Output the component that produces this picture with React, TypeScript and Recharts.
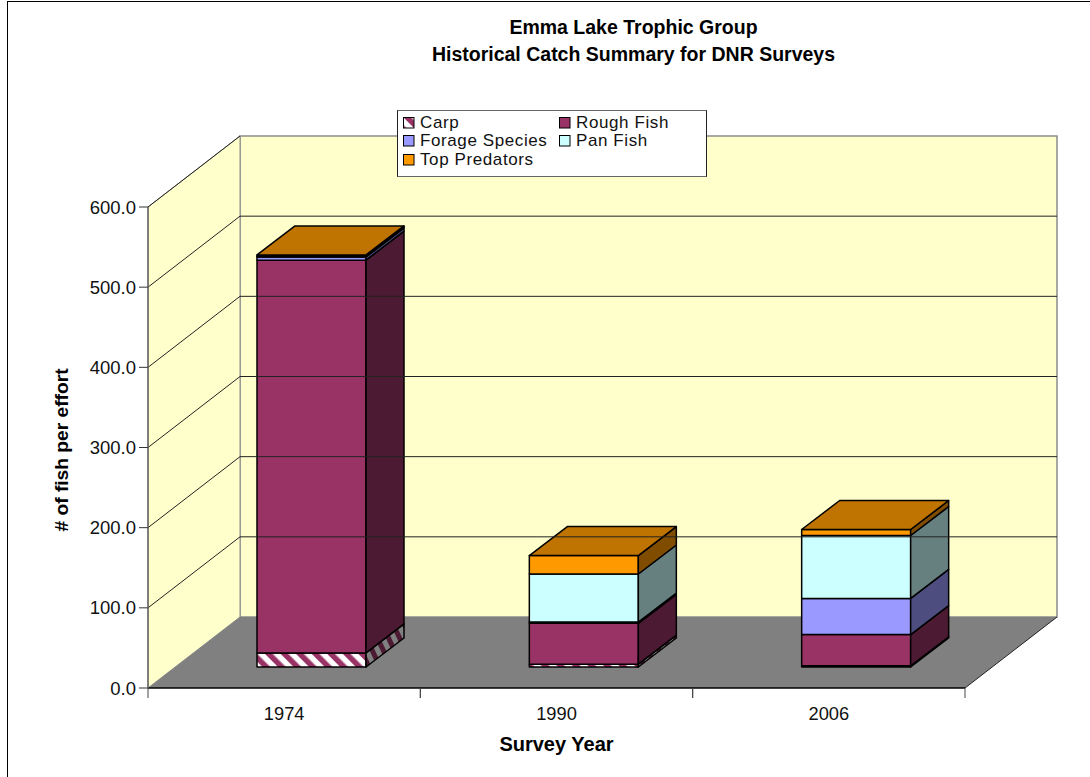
import { Bar, BarChart, Legend, ReferenceArea, ReferenceLine, XAxis, YAxis } from 'recharts';

const years = ['1974', '1990', '2006'];
const carp = [17.5, 3.5, 1.5];
const roughFish = [490, 51, 39];
const forageSpecies = [4, 1.5, 45];
const panFish = [1, 60, 78.5];
const topPredators = [1.5, 23, 7.5];

const seriesKeys = ['carp', 'rough', 'forage', 'pan', 'top'];
const seriesNames = ['Carp', 'Rough Fish', 'Forage Species', 'Pan Fish', 'Top Predators'];
const frontFills = ['url(#carpFront)', '#993366', '#9999FF', '#CCFFFF', '#FF9900'];
const sideFills = ['url(#carpSide)', '#4D1A33', '#4D4D80', '#668080', '#804D00'];
const yTicks = [0, 100, 200, 300, 400, 500, 600];

const rows = years.map((year, i) => ({
  year,
  carp: carp[i],
  rough: roughFish[i],
  forage: forageSpecies[i],
  pan: panFish[i],
  top: topPredators[i],
}));

const FONT = '"Liberation Sans", Arial, sans-serif';
// wall depth and where the bars sit inside it
const WALL_DX = 92;
const WALL_DY = 71;
const BAR_SHIFT_X = 27;
const BAR_SHIFT_Y = 21;
const BAR_DX = 38;
const BAR_DY = 29;
const BAND = 817 / 3;

function pts(list: number[][]) {
  return list.map((p) => p.join(',')).join(' ');
}

function Walls({ x, y, width, height }: any) {
  const bottom = y + height;
  const right = x + width;
  return (
    <g>
      <polygon
        points={pts([[x + WALL_DX, y - WALL_DY], [right + WALL_DX, y - WALL_DY], [right + WALL_DX, bottom - WALL_DY], [x + WALL_DX, bottom - WALL_DY]])}
        fill="#FFFFCC"
        stroke="#8C8C8C"
        strokeWidth={1.5}
      />
      <polygon
        points={pts([[x, y], [x + WALL_DX, y - WALL_DY], [x + WALL_DX, bottom - WALL_DY], [x, bottom]])}
        fill="#FFFFCC"
        stroke="#8C8C8C"
        strokeWidth={1}
      />
      <polygon
        points={pts([[x, bottom], [x + WALL_DX, bottom - WALL_DY], [right + WALL_DX, bottom - WALL_DY], [right, bottom]])}
        fill="#808080"
      />
      <line x1={right} y1={bottom} x2={right + WALL_DX} y2={bottom - WALL_DY} stroke="#222" />
      <line x1={x} y1={y} x2={x + WALL_DX} y2={y - WALL_DY} stroke="#222" />
    </g>
  );
}

function WallGridLine({ x1, y1, x2 }: any) {
  return (
    <g>
      <line x1={x1} y1={y1} x2={x1 + WALL_DX} y2={y1 - WALL_DY} stroke="#222" />
      <line x1={x1 + WALL_DX} y1={y1 - WALL_DY} x2={x2 + WALL_DX} y2={y1 - WALL_DY} stroke="#222" />
    </g>
  );
}

function boxShape(index: number) {
  return function Box({ x, y, width, height }: any) {
    const left = x + BAR_SHIFT_X;
    const right = left + width;
    const top = y - BAR_SHIFT_Y;
    const bottom = top + height;
    return (
      <g stroke="#000" strokeWidth={1.5} strokeLinejoin="round">
        <rect x={left} y={top} width={width} height={height} fill={frontFills[index]} />
        <polygon
          points={pts([[right, top], [right + BAR_DX, top - BAR_DY], [right + BAR_DX, bottom - BAR_DY], [right, bottom]])}
          fill={sideFills[index]}
        />
        {index === seriesKeys.length - 1 && (
          <polygon
            points={pts([[left, top], [left + BAR_DX, top - BAR_DY], [right + BAR_DX, top - BAR_DY], [right, top]])}
            fill="#BF7300"
          />
        )}
      </g>
    );
  };
}

function YearTick({ x, y, payload }: any) {
  return (
    <g>
      <line x1={x - BAND / 2} y1={y} x2={x - BAND / 2} y2={y + 10} stroke="#444" />
      <line x1={x + BAND / 2} y1={y} x2={x + BAND / 2} y2={y + 10} stroke="#444" />
      <text x={x} y={y + 32} textAnchor="middle" fontSize={18.3} fontFamily={FONT} fill="#111">
        {payload.value}
      </text>
    </g>
  );
}

function YTitle({ viewBox }: any) {
  const cy = viewBox.y + viewBox.height / 2 + 2.5;
  return (
    <text x={68} y={cy} transform={`rotate(-90 68 ${cy})`} textAnchor="middle" fontSize={19.2} fontWeight="bold" fontFamily={FONT} fill="#000">
      # of fish per effort
    </text>
  );
}

function LegendBox() {
  return (
    <div
      style={{
        boxSizing: 'border-box',
        width: 310,
        height: 67,
        background: '#fff',
        border: '1px solid #222',
        borderTopColor: '#666',
        borderBottomColor: '#666',
        display: 'grid',
        gridTemplateColumns: '156px 150px',
        gridAutoRows: '18.3px',
        paddingTop: 3,
        paddingLeft: 5,
        fontFamily: FONT,
        fontSize: 17,
        letterSpacing: 0.6,
        lineHeight: '18px',
        color: '#111',
      }}
    >
      {seriesNames.map((name, i) => (
        <div key={name} style={{ display: 'flex', alignItems: 'center' }}>
          <svg width={12} height={12} style={{ marginRight: 5 }}>
            <rect x={0.5} y={0.5} width={10.5} height={10.5} fill={frontFills[i]} stroke="#000" />
          </svg>
          {name}
        </div>
      ))}
    </div>
  );
}

export default function App() {
  return (
    <div style={{ position: 'absolute', left: 0, top: 0, width: 1090, height: 777, overflow: 'hidden', background: '#fff' }}>
      <div style={{ position: 'absolute', left: 7, top: 1, width: 1200, height: 900, borderLeft: '1px solid #000', borderTop: '1px solid #000' }} />
      <BarChart
        width={1090}
        height={777}
        data={rows}
        barSize={109}
        margin={{ top: 207, right: 125, bottom: 0, left: 0 }}
        style={{ position: 'absolute', left: 0, top: 0 }}
      >
        <defs>
          <pattern id="carpFront" patternUnits="userSpaceOnUse" width={11} height={11} patternTransform="rotate(-45)">
            <rect width={11} height={11} fill="#fff" />
            <rect width={5.5} height={11} fill="#993366" />
          </pattern>
          <pattern id="carpSide" patternUnits="userSpaceOnUse" width={10} height={10} patternTransform="rotate(-25)">
            <rect width={10} height={10} fill="#808080" />
            <rect width={5} height={10} fill="#4D1A33" />
          </pattern>
        </defs>
        <text x={633.5} y={34} textAnchor="middle" fontSize={19.5} fontWeight="bold" fontFamily={FONT} fill="#000">
          Emma Lake Trophic Group
        </text>
        <text x={633.5} y={60.5} textAnchor="middle" fontSize={19.5} fontWeight="bold" fontFamily={FONT} fill="#000">
          Historical Catch Summary for DNR Surveys
        </text>
        <ReferenceArea y1={0} y2={600} shape={Walls} ifOverflow="visible" />
        {yTicks.slice(1, -1).map((t) => (
          <ReferenceLine key={t} y={t} shape={WallGridLine} ifOverflow="visible" />
        ))}
        <XAxis
          dataKey="year"
          height={89}
          axisLine={{ stroke: '#000', strokeWidth: 1.5 }}
          tickLine={false}
          tickSize={0}
          tickMargin={0}
          tick={YearTick}
          interval={0}
          label={{ value: 'Survey Year', position: 'insideBottom', offset: 26, fontSize: 20, fontWeight: 'bold', fontFamily: FONT, fill: '#000' }}
        />
        <YAxis
          width={148}
          domain={[0, 600]}
          ticks={yTicks}
          axisLine={{ stroke: '#666', strokeWidth: 1.5 }}
          tickLine={{ stroke: '#333' }}
          tick={{ fontSize: 18.5, fontFamily: FONT, fill: '#111' }}
          tickSize={9}
          tickMargin={3}
          tickFormatter={(v: number) => v.toFixed(1)}
          label={{ content: YTitle }}
        />
        <Legend
          layout="horizontal"
          verticalAlign="middle"
          content={LegendBox}
          wrapperStyle={{ left: 397, top: 110, width: 310, height: 67 }}
        />
        {seriesKeys.map((key, i) => (
          <Bar
            key={key}
            dataKey={key}
            name={seriesNames[i]}
            stackId="catch"
            fill={frontFills[i]}
            shape={boxShape(i)}
            isAnimationActive={false}
          />
        ))}
      </BarChart>
    </div>
  );
}
